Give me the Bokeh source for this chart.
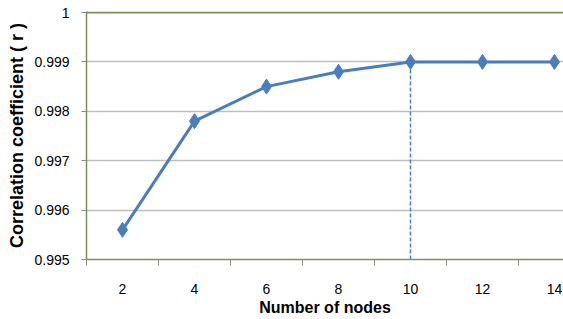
from bokeh.plotting import figure
from bokeh.models import FixedTicker, CustomJSTickFormatter, Span, ColumnDataSource
from bokeh.embed import file_html
from bokeh.resources import INLINE

# Data
nodes = [2, 4, 6, 8, 10, 12, 14]
corr = [0.9956, 0.9978, 0.9985, 0.9988, 0.999, 0.999, 0.999]
y_ticks = [0.995, 0.996, 0.997, 0.998, 0.999, 1.0]
y_tick_labels = ["0.995", "0.996", "0.997", "0.998", "0.999", "1"]
x_tick_labels = ["2", "4", "6", "8", "10", "12", "14"]
x_title = "Number of nodes"
y_title = "Correlation coefficient ( r )"

BLUE = "#4a7ebb"
OLIVE = "#7d8f5e"
GRID = "#bfbfbf"
FONT = "Liberation Sans"

# leave one pixel of room above the top value so the top border line is fully visible
pad = (y_ticks[-1] - y_ticks[0]) / 247.0

p = figure(width=563, height=319, output_backend="svg", toolbar_location=None,
           x_range=(1, 14.25), y_range=(y_ticks[0], y_ticks[-1] + pad),
           min_border_left=86, min_border_right=0, min_border_top=11,
           min_border_bottom=60)
p.outline_line_color = None
p.background_fill_color = "white"
p.border_fill_color = "white"

# gridlines
p.xgrid.visible = False
p.ygrid.ticker = FixedTicker(ticks=y_ticks[:-1])
p.ygrid.grid_line_color = GRID
p.ygrid.grid_line_width = 1.5

# top border
p.add_layout(Span(location=y_ticks[-1], dimension="width", line_color=OLIVE, line_width=2))

# x axis
xa = p.xaxis[0]
xa.ticker = FixedTicker(ticks=nodes, minor_ticks=[n - 1 for n in nodes])
xa.major_label_overrides = {n: lab for n, lab in zip(nodes, x_tick_labels)}
xa.major_tick_out = 0
xa.major_tick_in = 0
xa.minor_tick_out = 6
xa.minor_tick_in = 0
xa.minor_tick_line_color = "#8c8c8c"
xa.axis_line_color = OLIVE
xa.axis_line_width = 1.5
xa.major_label_standoff = 18
xa.major_label_text_font = FONT
xa.major_label_text_font_size = "14px"
xa.major_label_text_color = "black"
xa.axis_label = x_title
xa.axis_label_text_font = FONT
xa.axis_label_text_font_size = "16px"
xa.axis_label_text_font_style = "bold"
xa.axis_label_text_color = "black"
xa.axis_label_standoff = 2

# y axis
ya = p.yaxis[0]
ya.ticker = FixedTicker(ticks=y_ticks)
ya.formatter = CustomJSTickFormatter(args=dict(vals=y_ticks, labs=y_tick_labels), code="""
let best = 0, bd = 1e9;
for (let i = 0; i < vals.length; i++) { const d = Math.abs(vals[i] - tick); if (d < bd) { bd = d; best = i; } }
return labs[best];
""")
ya.major_tick_out = 5
ya.major_tick_in = 0
ya.major_tick_line_color = "#8c8c8c"
ya.minor_tick_line_color = None
ya.axis_line_color = OLIVE
ya.axis_line_width = 1.5
ya.major_label_standoff = 12
ya.major_label_text_font = FONT
ya.major_label_text_font_size = "14px"
ya.major_label_text_color = "black"
ya.axis_label = y_title
ya.axis_label_text_font = FONT
ya.axis_label_text_font_size = "18px"
ya.axis_label_text_font_style = "bold"
ya.axis_label_text_color = "black"
ya.axis_label_standoff = 4

src = ColumnDataSource(dict(x=nodes, y=corr))

# dashed drop line at the point where the curve first reaches its maximum
imax = corr.index(max(corr))
p.segment(x0=[nodes[imax]], y0=[y_ticks[0]], x1=[nodes[imax]], y1=[corr[imax]],
          line_color=BLUE, line_width=1.5, line_dash="4 2")

p.line("x", "y", source=src, line_color=BLUE, line_width=3)
p.scatter("x", "y", source=src, marker="diamond", size=15, fill_color=BLUE,
          line_color=BLUE, line_width=1)

open("out.html", "w").write(file_html(p, INLINE))
